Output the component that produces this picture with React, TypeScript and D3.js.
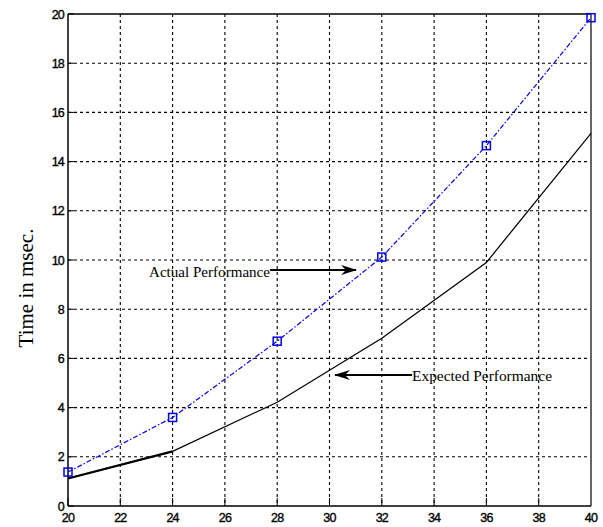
import React from "react";
import * as d3 from "d3";

const xValues = [20, 24, 28, 32, 36, 40];
const actual = [1.38, 3.6, 6.7, 10.12, 14.65, 19.85];
const expected = [1.12, 2.22, 4.22, 6.82, 9.9, 15.15];
const xTicks = [20, 22, 24, 26, 28, 30, 32, 34, 36, 38, 40];
const yTicks = [0, 2, 4, 6, 8, 10, 12, 14, 16, 18, 20];
const yLabel = "Time in msec.";
const actualLabel = "Actual Performance";
const expectedLabel = "Expected Performance";

const W = 603;
const H = 527;
const M = { left: 68, right: 591, top: 14, bottom: 506 };

export default function App() {
  const x = d3.scaleLinear().domain([20, 40]).range([M.left, M.right]);
  const y = d3.scaleLinear().domain([0, 20]).range([M.bottom, M.top]);
  const line = d3
    .line<number>()
    .x((_, i) => x(xValues[i]))
    .y((d) => y(d));

  const tickFont = {
    fontFamily: "'Liberation Sans', Arial, sans-serif",
    fontSize: 12.5,
    letterSpacing: -0.8,
    fill: "#000",
    stroke: "#000",
    strokeWidth: 0.35,
  } as const;

  return (
    <svg
      width={W}
      height={H}
      style={{ position: "absolute", left: 0, top: 0, background: "#fff" }}
    >
      <defs>
        <marker
          id="arrow"
          viewBox="0 0 16 10"
          refX={15}
          refY={5}
          markerWidth={16}
          markerHeight={10}
          markerUnits="userSpaceOnUse"
          orient="auto"
        >
          <path d="M0,0 L16,5 L0,10 L5,5 Z" fill="#000" />
        </marker>
      </defs>
      {/* grid */}
      {xTicks.slice(1, -1).map((t) => (
        <line
          key={"gx" + t}
          x1={x(t)}
          x2={x(t)}
          y1={M.top}
          y2={M.bottom}
          stroke="#000"
          strokeWidth={1.1}
          strokeDasharray="3,3"
        />
      ))}
      {yTicks.slice(1, -1).map((t) => (
        <line
          key={"gy" + t}
          x1={M.left}
          x2={M.right}
          y1={y(t)}
          y2={y(t)}
          stroke="#000"
          strokeWidth={1.1}
          strokeDasharray="3,3"
        />
      ))}
      {/* inner ticks */}
      {xTicks.map((t) => (
        <line
          key={"tx" + t}
          x1={x(t)}
          x2={x(t)}
          y1={M.bottom}
          y2={M.bottom - 8}
          stroke="#000"
          strokeWidth={1}
        />
      ))}
      {yTicks.map((t) => (
        <line
          key={"ty" + t}
          x1={M.left}
          x2={M.left + 6}
          y1={y(t)}
          y2={y(t)}
          stroke="#000"
          strokeWidth={1}
        />
      ))}
      {/* frame */}
      <line x1={M.left} x2={M.right} y1={M.top} y2={M.top} stroke="#000" strokeWidth={1.5} />
      <line x1={M.right} x2={M.right} y1={M.top} y2={M.bottom} stroke="#666" strokeWidth={2} />
      <line x1={M.left} x2={M.left} y1={M.top} y2={M.bottom} stroke="#000" strokeWidth={1.5} />
      <line x1={M.left} x2={M.right} y1={M.bottom} y2={M.bottom} stroke="#000" strokeWidth={1.5} />

      {/* tick labels */}
      {xTicks.map((t) => (
        <text key={"lx" + t} x={x(t)} y={522} textAnchor="middle" {...tickFont}>
          {t}
        </text>
      ))}
      {yTicks.map((t) => (
        <text key={"ly" + t} x={64} y={y(t) + 4.5} textAnchor="end" {...tickFont}>
          {t}
        </text>
      ))}

      {/* y label */}
      <text
        transform="translate(33,288) rotate(-90)"
        textAnchor="middle"
        fontFamily="'Liberation Serif', 'Times New Roman', serif"
        fontSize={21}
        fill="#000"
      >
        {yLabel}
      </text>

      {/* expected line */}
      <path d={line(expected) || ""} fill="none" stroke="#000" strokeWidth={1.2} />
      <path d={line(expected.slice(0, 2)) || ""} fill="none" stroke="#000" strokeWidth={2.2} />
      {/* actual line */}
      <path
        d={line(actual) || ""}
        fill="none"
        stroke="#0000ff"
        strokeWidth={1.2}
        strokeDasharray="5,2,1.5,2"
      />
      {actual.map((v, i) => (
        <rect
          key={"m" + i}
          x={x(xValues[i]) - 4}
          y={y(v) - 4}
          width={8}
          height={8}
          fill="none"
          stroke="#0000ff"
          strokeWidth={1.5}
        />
      ))}

      {/* annotations */}
      <text
        x={149}
        y={277}
        fontFamily="'Liberation Serif', 'Times New Roman', serif"
        fontSize={15}
        fill="#000"
        textLength={121}
        lengthAdjust="spacingAndGlyphs"
      >
        {actualLabel}
      </text>
      <line x1={270} y1={270} x2={356} y2={270} stroke="#000" strokeWidth={2} markerEnd="url(#arrow)" />
      <text
        x={412}
        y={381}
        fontFamily="'Liberation Serif', 'Times New Roman', serif"
        fontSize={15}
        fill="#000"
        textLength={140}
        lengthAdjust="spacingAndGlyphs"
      >
        {expectedLabel}
      </text>
      <line x1={412} y1={375} x2={335} y2={375} stroke="#000" strokeWidth={2} markerEnd="url(#arrow)" />
    </svg>
  );
}
